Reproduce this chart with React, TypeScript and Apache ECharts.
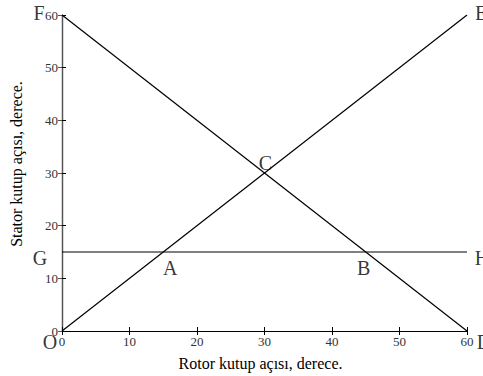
import React, { useEffect, useRef } from "react";
import * as echarts from "echarts";

const xTickValues = [0, 10, 20, 30, 40, 50, 60];
const yTickValues = [0, 10, 20, 30, 40, 50, 60];
const lineOE = [[0, 0], [60, 60]];
const lineFD = [[0, 60], [60, 0]];
const lineGH = [[0, 15], [60, 15]];
const pointNames = ["F", "E", "O", "D", "G", "H", "A", "B", "C"];
const pointCoords = [[0, 60], [60, 60], [0, 0], [60, 0], [0, 15], [60, 15], [15, 15], [45, 15], [30, 30]];
const xTitle = "Rotor kutup açısı, derece.";
const yTitle = "Stator kutup açısı, derece.";

const FONT = "'Liberation Serif', 'Times New Roman', serif";

export default function App() {
  const ref = useRef<HTMLDivElement>(null);
  useEffect(() => {
    if (!ref.current) return;
    const chart = echarts.init(ref.current, undefined, { renderer: "svg" });
    const offsets: Record<string, [number, number]> = {
      F: [-23, -2], E: [14, -2], O: [-12, 11], D: [17, 11],
      G: [-22, 6], H: [15, 6], A: [7, 16], B: [-2, 16], C: [1, -10],
    };
    const lineStyle = { color: "#000", width: 1.2 };
    const axisCommon = {
      type: "value" as const,
      min: xTickValues[0],
      max: xTickValues[xTickValues.length - 1],
      interval: 10,
      splitLine: { show: false },
      axisTick: { show: true, inside: true, length: 4, lineStyle: { color: "#000" } },
      axisLabel: { color: "#333", fontSize: 13, fontFamily: FONT },
    };
    chart.setOption({
      animation: false,
      backgroundColor: "#fff",
      grid: { left: 61, right: 16, top: 15, bottom: 41, containLabel: false },
      xAxis: [
        {
          ...axisCommon,
          position: "bottom",
          axisLine: { show: true, lineStyle: { color: "#000", width: 1.2 } },
          axisLabel: { ...axisCommon.axisLabel, margin: 4 },
          name: xTitle,
          nameLocation: "middle",
          nameGap: 24,
          nameTextStyle: { color: "#000", fontSize: 16, fontFamily: FONT, padding: [0, 8, 0, 0] },
        },
        {
          ...axisCommon,
          position: "top",
          axisLine: { show: true, lineStyle: { color: "#000", width: 1.2 } },
          axisLabel: { show: false },
        },
      ],
      yAxis: [
        {
          ...axisCommon,
          min: yTickValues[0],
          max: yTickValues[yTickValues.length - 1],
          position: "left",
          axisLine: { show: true, lineStyle: { color: "#000", width: 1.2 } },
          axisLabel: { ...axisCommon.axisLabel, margin: 4 },
          name: yTitle,
          nameLocation: "middle",
          nameGap: 38,
          nameTextStyle: { color: "#000", fontSize: 16, fontFamily: FONT, padding: [0, 0, 0, 18] },
        },
        {
          ...axisCommon,
          min: yTickValues[0],
          max: yTickValues[yTickValues.length - 1],
          position: "right",
          axisLine: { show: true, lineStyle: { color: "#555", width: 1.2 } },
          axisTick: { show: true, inside: true, length: 4, lineStyle: { color: "#555" } },
          axisLabel: { show: false },
        },
      ],
      series: [
        { type: "line", data: lineOE, symbol: "none", lineStyle, silent: true },
        { type: "line", data: lineFD, symbol: "none", lineStyle, silent: true },
        { type: "line", data: lineGH, symbol: "none", lineStyle, silent: true },
        {
          type: "scatter",
          symbolSize: 0,
          silent: true,
          data: pointNames.map((n, i) => ({
            name: n,
            value: pointCoords[i],
            label: { offset: offsets[n] },
          })),
          label: {
            show: true,
            position: "inside",
            formatter: "{b}",
            color: "#000",
            fontSize: 20,
            fontFamily: FONT,
          },
        },
      ],
    });
    return () => chart.dispose();
  }, []);
  return (
    <div
      ref={ref}
      style={{ position: "fixed", left: 0, top: 0, width: 483, height: 376, background: "#fff" }}
    />
  );
}
